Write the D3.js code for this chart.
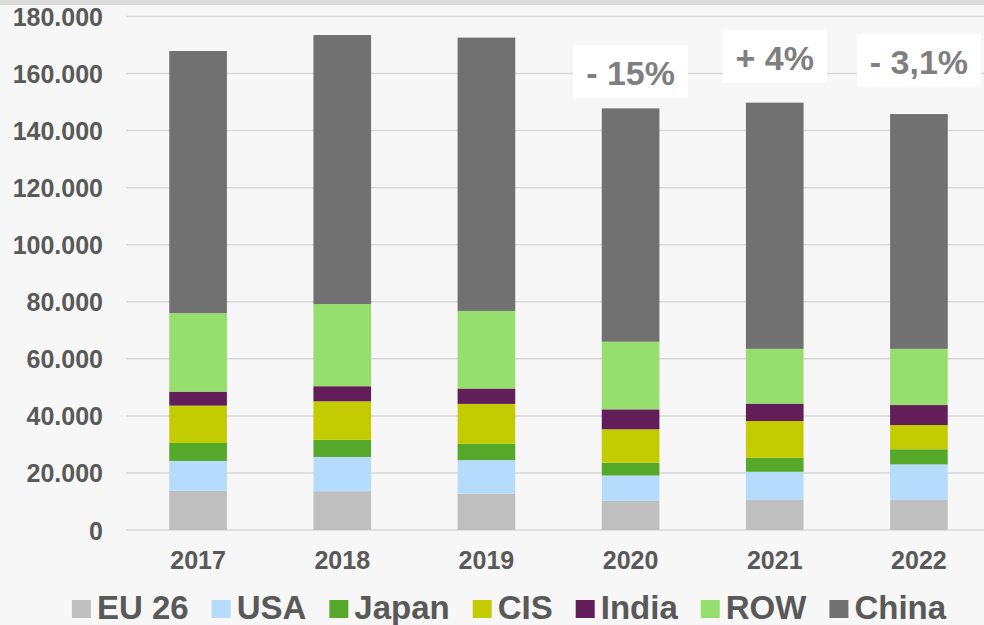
<!DOCTYPE html>
<html>
<head>
<meta charset="utf-8">
<script src="https://cdn.jsdelivr.net/npm/d3@7"></script>
<style>
  html, body { margin: 0; padding: 0; background: #f7f7f7; }
  svg { display: block; }
  text { font-family: "Liberation Sans", Arial, sans-serif; font-weight: bold; }
</style>
</head>
<body>
<svg id="chart" width="984" height="625"></svg>
<script>
// ---- data ----
const years = ["2017", "2018", "2019", "2020", "2021", "2022"];
const seriesNames = ["EU 26", "USA", "Japan", "CIS", "India", "ROW", "China"];
const eu26  = [13800, 13600, 12700, 10200, 10500, 10500];
const usa   = [10400, 12000, 11800,  8900,  9900, 12500];
const japan = [ 6300,  6000,  5700,  4500,  4900,  5300];
const cis   = [13100, 13500, 14000, 11700, 12900,  8500];
const india = [ 4900,  5300,  5400,  7000,  6100,  7000];
const row   = [27500, 28800, 27200, 23700, 19200, 19700];
const china = [91900, 94300, 95800, 81800, 86300, 82300];
const yTicks = [0, 20000, 40000, 60000, 80000, 100000, 120000, 140000, 160000, 180000];
const annotationYears = ["2020", "2021", "2022"];
const annotationLabels = ["- 15%", "+ 4%", "- 3,1%"];

// ---- styles ----
const colors = ["#bfbfbf", "#b6dcfd", "#56a82a", "#c2cc00", "#621e59", "#96de6e", "#717171"];
const annotationGap = [10, 20, 27];

const seriesValues = [eu26, usa, japan, cis, india, row, china];
const table = years.map((y, i) => {
  const o = { year: y };
  seriesNames.forEach((s, k) => o[s] = seriesValues[k][i]);
  return o;
});

const svg = d3.select("#chart");
svg.append("rect").attr("x", 0).attr("y", 0).attr("width", 984).attr("height", 625).attr("fill", "#f7f7f7");
svg.append("rect").attr("x", 0).attr("y", 0).attr("width", 984).attr("height", 5).attr("fill", "#dcdcdc");

const x = d3.scaleBand().domain(years).range([126, 991]).paddingInner(0.6).paddingOuter(0.3);
const y = d3.scaleLinear().domain([0, 180000]).range([530, 16.5]);

// gridlines
svg.append("g").selectAll("line").data(yTicks).join("line")
  .attr("x1", 126).attr("x2", 984)
  .attr("y1", d => y(d)).attr("y2", d => y(d))
  .attr("stroke", "#d9d9d9").attr("stroke-width", 1.5);

// y axis labels
const yAxis = d3.axisLeft(y).tickValues(yTicks).tickSize(0).tickPadding(0)
  .tickFormat(d => d3.format(",")(d).replace(/,/g, "."));
const gy = svg.append("g").attr("transform", "translate(103,0)").call(yAxis);
gy.select(".domain").remove();
gy.selectAll("text").attr("font-size", 25).attr("fill", "#595959")
  .attr("font-family", "'Liberation Sans', Arial, sans-serif").attr("font-weight", "bold")
  .attr("dy", "0.36em");

// stacked bars
const stack = d3.stack().keys(seriesNames)(table);
svg.append("g").selectAll("g").data(stack).join("g")
  .attr("fill", (d, i) => colors[i])
  .selectAll("rect").data(d => d).join("rect")
  .attr("x", d => x(d.data.year))
  .attr("width", x.bandwidth())
  .attr("y", d => y(d[1]))
  .attr("height", d => y(d[0]) - y(d[1]));

// x axis labels
const xAxis = d3.axisBottom(x).tickSize(0).tickPadding(0);
const gx = svg.append("g").attr("transform", "translate(0,569)").call(xAxis);
gx.select(".domain").remove();
gx.selectAll("text").attr("font-size", 25).attr("fill", "#595959")
  .attr("font-family", "'Liberation Sans', Arial, sans-serif").attr("font-weight", "bold")
  .attr("dy", 0).attr("y", 0);

// annotations
const totals = years.map((yr, i) => d3.sum(seriesValues, s => s[i]));
annotationYears.forEach((yr, k) => {
  const i = years.indexOf(yr);
  const cx = x(yr) + x.bandwidth() / 2;
  const boxBottom = y(totals[i]) - annotationGap[k];
  const boxH = 53;
  const g = svg.append("g");
  const rect = g.append("rect").attr("fill", "#ffffff");
  const t = g.append("text").text(annotationLabels[k])
    .attr("x", cx).attr("y", boxBottom - boxH + 40)
    .attr("text-anchor", "middle").attr("font-size", 34).attr("fill", "#7f7f7f");
  const w = t.node().getComputedTextLength() + 26;
  rect.attr("x", cx - w / 2).attr("y", boxBottom - boxH).attr("width", w).attr("height", boxH);
});

// legend
const legend = svg.append("g");
let lx = 0;
seriesNames.forEach((s, i) => {
  const g = legend.append("g");
  g.append("rect").attr("x", 0).attr("y", 600).attr("width", 19).attr("height", 18).attr("fill", colors[i]);
  const t = g.append("text").text(s).attr("x", 25).attr("y", 618.5)
    .attr("font-size", 33).attr("fill", "#595959");
  const w = 25 + t.node().getComputedTextLength();
  g.attr("transform", `translate(${lx},0)`);
  lx += w + 23;
});
const totalW = lx - 23;
legend.attr("transform", `translate(${509 - totalW / 2},0)`);
</script>
</body>
</html>
